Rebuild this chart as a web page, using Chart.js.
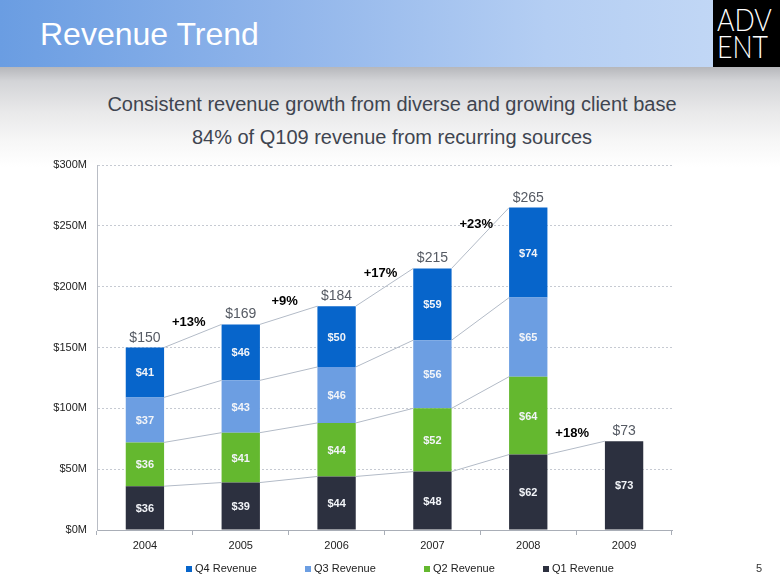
<!DOCTYPE html>
<html>
<head>
<meta charset="utf-8">
<script src="https://cdn.jsdelivr.net/npm/chart.js@4.4.1/dist/chart.umd.min.js"></script>
<style>
  html, body { margin:0; padding:0; }
  body { width:780px; height:585px; overflow:hidden; position:relative; background:#ffffff; font-family:"Liberation Sans", Arial, sans-serif; }
  #header { position:absolute; left:0; top:0; width:780px; height:67px;
    background:linear-gradient(to right, #6a9de2 0%, #8fb4ea 35%, #b4cef3 70%, #c6daf6 100%); }
  #band { position:absolute; left:0; top:67px; width:780px; height:100px;
    background:linear-gradient(to bottom, #b6b7bb 0px, #d3d4d7 14px, #e9e9ea 45px, #f7f7f7 75px, #ffffff 100px); }
  #title { position:absolute; left:40px; top:18px; font-size:32px; line-height:32px; color:#ffffff; white-space:nowrap; }
  #logo { position:absolute; left:713px; top:0; width:67px; height:67px; background:#000000; }
  .logoline { position:absolute; left:4px; width:60px; color:#ffffff; font-family:Lato, "DejaVu Sans", sans-serif; font-weight:300; font-size:31px; line-height:31px; transform:scaleX(0.86); transform-origin:left top; letter-spacing:0px; white-space:nowrap; }
  #sub { position:absolute; left:0; top:88px; width:780px; text-align:center; font-size:20px; line-height:33px; color:#3f4550; padding-left:2px; }
  #chartwrap { position:absolute; left:0; top:0; width:780px; height:585px; }
  #legend { position:absolute; left:0; top:560px; width:780px; height:16px; }
  .litem { position:absolute; top:0; font-size:11px; line-height:16px; color:#222222; white-space:nowrap; }
  .lbox { display:inline-block; width:6px; height:6px; margin-right:3px; vertical-align:0px; }
  #page { position:absolute; left:756px; top:560px; font-size:11px; line-height:16px; color:#333333; }
</style>
</head>
<body>
<div id="header"></div>
<div id="band"></div>
<div id="title">Revenue Trend</div>
<div id="logo"><div class="logoline" style="top:4px;">ADV</div><div class="logoline" style="top:31px;">ENT</div></div>
<div id="sub">Consistent revenue growth from diverse and growing client base<br>84% of Q109 revenue from recurring sources</div>
<div id="chartwrap"><canvas id="c" width="780" height="585"></canvas></div>
<div id="legend"></div>
<div id="page">5</div>
<script>
// ---- data ----
const years = ['2004', '2005', '2006', '2007', '2008', '2009'];
const q1Revenue = [36, 39, 44, 48, 62, 73];
const q2Revenue = [36, 41, 44, 52, 64, null];
const q3Revenue = [37, 43, 46, 56, 65, null];
const q4Revenue = [41, 46, 50, 59, 74, null];
const totals = [150, 169, 184, 215, 265, 73];
const growthLabels = ['+13%', '+9%', '+17%', '+23%', '+18%'];
const yTickValues = [0, 50, 100, 150, 200, 250, 300];

const colors = { q1:'#2c303f', q2:'#64b82f', q3:'#6c9ee2', q4:'#0765cb' };

const overlay = {
  id: 'overlay',
  afterDatasetsDraw(chart) {
    const ctx = chart.ctx;
    const ds = chart.data.datasets;
    const metas = ds.map((d, i) => chart.getDatasetMeta(i));
    const ys = chart.scales.y;
    ctx.save();
    // connector lines
    ctx.strokeStyle = '#b3bbc7';
    ctx.lineWidth = 1;
    for (let d = 0; d < ds.length; d++) {
      for (let j = 0; j < years.length - 1; j++) {
        const v1 = ds[d].data[j], v2 = ds[d].data[j + 1];
        if (v1 == null || v2 == null) continue;
        const a = metas[d].data[j], b = metas[d].data[j + 1];
        ctx.beginPath();
        ctx.moveTo(a.x + a.width / 2, a.y);
        ctx.lineTo(b.x - b.width / 2, b.y);
        ctx.stroke();
      }
    }
    // segment labels
    ctx.fillStyle = '#f2f4f8';
    ctx.font = 'bold 11px "Liberation Sans", Arial, sans-serif';
    ctx.textAlign = 'center';
    ctx.textBaseline = 'middle';
    for (let d = 0; d < ds.length; d++) {
      ds[d].data.forEach((v, j) => {
        if (v == null) return;
        const el = metas[d].data[j];
        ctx.fillText('$' + v, el.x, (el.y + el.base) / 2 + 1);
      });
    }
    // totals
    ctx.fillStyle = '#565b64';
    ctx.font = '14px "Liberation Sans", Arial, sans-serif';
    ctx.textBaseline = 'alphabetic';
    totals.forEach((t, j) => {
      const x = metas[0].data[j].x;
      ctx.fillText('$' + t, x, ys.getPixelForValue(t) - 6);
    });
    // growth labels
    ctx.fillStyle = '#000000';
    ctx.font = 'bold 13px "Liberation Sans", Arial, sans-serif';
    ctx.textBaseline = 'middle';
    growthLabels.forEach((g, j) => {
      let top = -1;
      for (let d = 0; d < ds.length; d++) {
        if (ds[d].data[j] != null && ds[d].data[j + 1] != null) top = d;
      }
      if (top < 0) return;
      const a = metas[top].data[j], b = metas[top].data[j + 1];
      const mx = ((a.x + a.width / 2) + (b.x - b.width / 2)) / 2;
      const my = (a.y + b.y) / 2;
      ctx.fillText(g, mx - 4, my - 14);
    });
    ctx.restore();
  }
};

const chart = new Chart(document.getElementById('c'), {
  type: 'bar',
  data: {
    labels: years,
    datasets: [
      { label: 'Q1 Revenue', data: q1Revenue, backgroundColor: colors.q1 },
      { label: 'Q2 Revenue', data: q2Revenue, backgroundColor: colors.q2 },
      { label: 'Q3 Revenue', data: q3Revenue, backgroundColor: colors.q3 },
      { label: 'Q4 Revenue', data: q4Revenue, backgroundColor: colors.q4 }
    ]
  },
  options: {
    responsive: false,
    animation: false,
    devicePixelRatio: 1,
    layout: { padding: { top: 165, left: 0, right: 108, bottom: 30 } },
    datasets: { bar: { categoryPercentage: 0.8, barPercentage: 0.5, borderWidth: 0 } },
    plugins: { legend: { display: false }, tooltip: { enabled: false } },
    scales: {
      x: {
        stacked: true,
        afterFit: (s) => { s.height = 25; },
        grid: { display: true, drawOnChartArea: false, drawTicks: true, tickLength: 5, color: '#a9aeb7', offset: true },
        border: { display: true, color: '#a9aeb7', width: 1 },
        ticks: { color: '#222222', padding: 4, font: { family: '"Liberation Sans", Arial, sans-serif', size: 11 } }
      },
      y: {
        stacked: true,
        min: 0, max: 300,
        afterFit: (s) => { s.width = 97; },
        afterBuildTicks: (s) => { s.ticks = yTickValues.map(v => ({ value: v })); },
        grid: { color: '#c6cad2', lineWidth: 1, drawTicks: false },
        border: { display: true, color: '#b9bdc5', width: 1, dash: [2, 2] },
        ticks: { color: '#222222', padding: 10, font: { family: '"Liberation Sans", Arial, sans-serif', size: 11 },
          callback: (v) => '$' + v + 'M' }
      }
    }
  },
  plugins: [overlay]
});

// HTML legend built from the chart's datasets (reverse order as in reference)
const legendEl = document.getElementById('legend');
chart.data.datasets.slice().reverse().forEach((d, i) => {
  const item = document.createElement('div');
  item.className = 'litem';
  item.style.left = (186 + i * 119) + 'px';
  const box = document.createElement('span');
  box.className = 'lbox';
  box.style.background = d.backgroundColor;
  item.appendChild(box);
  item.appendChild(document.createTextNode(d.label));
  legendEl.appendChild(item);
});
</script>
</body>
</html>
